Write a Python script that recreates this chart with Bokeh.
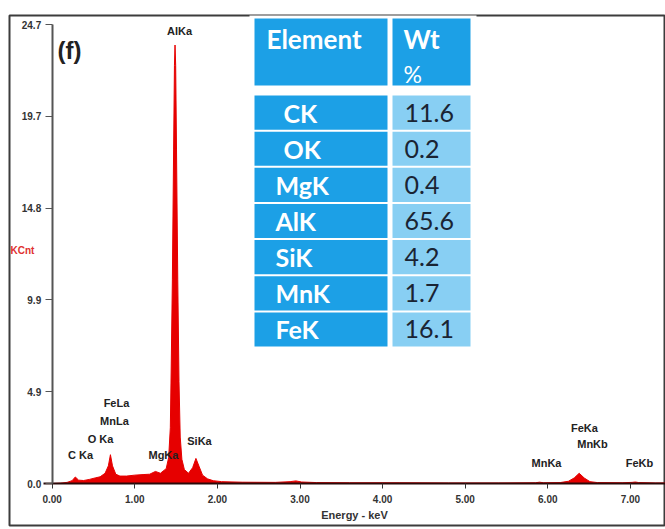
from bokeh.plotting import figure
from bokeh.models import Range1d, FixedTicker, ColumnDataSource
from bokeh.embed import file_html
from bokeh.resources import INLINE
from bokeh.core.properties import value

# ---------------- data ----------------
energy_kev = [0.00, 0.10, 0.18, 0.24, 0.28, 0.32, 0.38, 0.45, 0.52, 0.58, 0.64, 0.68, 0.705, 0.73,
              0.77, 0.82, 0.90, 1.00, 1.10, 1.18, 1.25, 1.31, 1.38, 1.41, 1.43, 1.44, 1.455, 1.47,
              1.48, 1.487, 1.495, 1.505, 1.52, 1.535, 1.55, 1.57, 1.60, 1.65, 1.70, 1.74, 1.78,
              1.82, 1.88, 1.95, 2.05, 2.30, 2.70, 2.88, 2.95, 3.02, 3.20, 3.60, 4.20, 4.80, 5.40,
              5.85, 5.90, 5.95, 6.15, 6.25, 6.32, 6.38, 6.44, 6.51, 6.60, 6.90, 7.02, 7.06, 7.10,
              7.30, 7.42]
counts_kcnt = [0.00, 0.02, 0.06, 0.15, 0.35, 0.18, 0.16, 0.22, 0.30, 0.36, 0.55, 0.95, 1.55, 0.95,
               0.50, 0.40, 0.40, 0.45, 0.48, 0.50, 0.65, 0.55, 0.80, 1.40, 3.00, 6.00, 11.0, 18.0,
               22.5, 23.6, 22.5, 18.0, 11.0, 5.5, 2.5, 1.3, 0.75, 0.55, 0.85, 1.35, 0.90,
               0.45, 0.25, 0.15, 0.10, 0.07, 0.06, 0.10, 0.14, 0.08, 0.05, 0.04, 0.04, 0.03, 0.03,
               0.04, 0.07, 0.04, 0.05, 0.12, 0.30, 0.55, 0.30, 0.10, 0.05, 0.04, 0.06, 0.08, 0.05,
               0.03, 0.03]

x_tick_values = [0, 1, 2, 3, 4, 5, 6, 7]
x_tick_labels = ["0.00", "1.00", "2.00", "3.00", "4.00", "5.00", "6.00", "7.00"]
y_tick_values = [0.0, 4.94, 9.88, 14.82, 19.76, 24.7]
y_tick_labels = ["0.0", "4.9", "9.9", "14.8", "19.7", "24.7"]

peak_names = ["AlKa", "FeLa", "MnLa", "O Ka", "C Ka", "MgKa", "SiKa", "FeKa", "MnKb", "MnKa", "FeKb"]
peak_label_x = [1.541, 0.778, 0.754, 0.585, 0.343, 1.347, 1.783, 6.444, 6.541, 5.984, 7.110]
peak_label_y = [24.38, 4.31, 3.34, 2.42, 1.51, 1.51, 2.31, 3.01, 2.15, 1.13, 1.13]

elements = ["CK", "OK", "MgK", "AlK", "SiK", "MnK", "FeK"]
wt_percent = [11.6, 0.2, 0.4, 65.6, 4.2, 1.7, 16.1]

# ---------------- layout (pixel geometry of the reference) ----------------
PX_PER_KEV = 82.6
PX_PER_KCNT = 18.58
X0_PX, Y0_PX = 51.7, 483.0


def kx(px):
    return (px - X0_PX) / PX_PER_KEV


def ky(py):
    return (Y0_PX - py) / PX_PER_KCNT


p = figure(width=665, height=529, title=None,
           x_range=Range1d(kx(9), kx(665)), y_range=Range1d(ky(525), ky(15)),
           output_backend="svg", toolbar_location=None,
           min_border_left=9, min_border_right=0, min_border_top=15, min_border_bottom=4)
p.grid.visible = False
p.background_fill_color = "white"
p.border_fill_color = "white"
p.outline_line_color = "#3c3c3c"
p.outline_line_width = 2

# spectrum
src = ColumnDataSource(dict(e=energy_kev, c=counts_kcnt))
p.varea(x="e", y1=0, y2="c", source=src, fill_color="#e60000")
p.line(x="e", y="c", source=src, line_color="#e60000", line_width=1)

# axes placed at data origin
FONT = "Liberation Sans"
xa = p.xaxis[0]
xa.fixed_location = 0
xa.bounds = (-0.1, kx(665))
xa.ticker = FixedTicker(ticks=x_tick_values)
xa.major_label_overrides = {v: l for v, l in zip(x_tick_values, x_tick_labels)}
xa.minor_tick_line_color = None
xa.major_tick_out = 5
xa.major_tick_in = 0
xa.axis_line_color = "#2a0a0a"
xa.axis_line_width = 2
xa.major_tick_line_color = "#333333"
xa.major_label_text_font = FONT
xa.major_label_text_font_style = "bold"
xa.major_label_text_font_size = "10px"
xa.major_label_text_color = "#333333"
xa.major_label_standoff = 6
xa.axis_label = "Energy - keV"
xa.axis_label_text_font = FONT
xa.axis_label_text_font_style = "bold"
xa.axis_label_text_font_size = "11px"
xa.axis_label_text_color = "#333333"
xa.axis_label_standoff = 3

ya = p.yaxis[0]
ya.fixed_location = 0
ya.bounds = (0, 24.7)
ya.ticker = FixedTicker(ticks=y_tick_values)
ya.major_label_overrides = {v: l for v, l in zip(y_tick_values, y_tick_labels)}
ya.minor_tick_line_color = None
ya.major_tick_out = 7
ya.major_tick_in = 0
ya.axis_line_color = "#555555"
ya.axis_line_width = 2
ya.major_tick_line_color = "#555555"
ya.major_label_text_font = FONT
ya.major_label_text_font_style = "bold"
ya.major_label_text_font_size = "10px"
ya.major_label_text_color = "#333333"
ya.major_label_standoff = 4

# y-axis unit label
p.text(x=[kx(10)], y=[ky(250)], text=["KCnt"], text_font=value(FONT), text_font_style="bold",
       text_font_size="10px", text_color="#e03030", text_align="left", text_baseline="middle")

# panel tag
p.text(x=[kx(57)], y=[ky(50)], text=["(f)"], text_font=value(FONT), text_font_style="bold",
       text_font_size="24px", text_color="#222222", text_align="left", text_baseline="middle")

# peak labels
p.text(x=peak_label_x, y=peak_label_y, text=peak_names, text_font=value(FONT),
       text_font_style="bold", text_font_size="11px", text_color="#222222",
       text_align="center", text_baseline="middle")

# ---------------- table ----------------
BRIGHT = "#1ca0e6"
LIGHT = "#88cff3"
T_LEFT, T_DIV_L, T_DIV_R, T_RIGHT = 254, 387, 392, 470
H_TOP, H_BOT = 18, 85
R_TOP, R_H, R_GAP = 95, 36.15, 2

# white backing of the table
p.quad(left=[kx(249)], right=[kx(476)], top=[ky(13)], bottom=[ky(353)],
       fill_color="white", line_color=None)
# header cells
p.quad(left=[kx(T_LEFT), kx(T_DIV_R)], right=[kx(T_DIV_L), kx(T_RIGHT)],
       top=[ky(H_TOP)] * 2, bottom=[ky(H_BOT)] * 2, fill_color=BRIGHT, line_color=None)
n = len(elements)
tops = [R_TOP + i * R_H for i in range(n)]
bots = [t + R_H - R_GAP for t in tops]
p.quad(left=[kx(T_LEFT)] * n, right=[kx(T_DIV_L)] * n, top=[ky(t) for t in tops],
       bottom=[ky(b) for b in bots], fill_color=BRIGHT, line_color=None)
p.quad(left=[kx(T_DIV_R)] * n, right=[kx(T_RIGHT)] * n, top=[ky(t) for t in tops],
       bottom=[ky(b) for b in bots], fill_color=LIGHT, line_color=None)

TFONT = "Lato"
p.text(x=[kx(266), kx(403)], y=[ky(38), ky(38)], text=["Element", "Wt"], text_font=value(TFONT),
       text_font_style="bold", text_font_size="26px", text_color="white",
       text_align="left", text_baseline="middle")
p.text(x=[kx(403)], y=[ky(73)], text=["%"], text_font=value(TFONT),
       text_font_style="normal", text_font_size="23px", text_color="white",
       text_align="left", text_baseline="middle")

indent = [8, 8, 0, 0, 0, 0, 0]
centers = [(t + b) / 2 for t, b in zip(tops, bots)]
p.text(x=[kx(275 + d) for d in indent], y=[ky(c) for c in centers], text=elements,
       text_font=value(TFONT), text_font_style="bold", text_font_size="25px",
       text_color="white", text_align="left", text_baseline="middle")
p.text(x=[kx(404)] * n, y=[ky(c) for c in centers], text=[f"{v:.1f}" for v in wt_percent],
       text_font=value(TFONT), text_font_style="normal", text_font_size="25px",
       text_color="#1a2433", text_align="left", text_baseline="middle")

open("out.html", "w").write(file_html(p, INLINE))
